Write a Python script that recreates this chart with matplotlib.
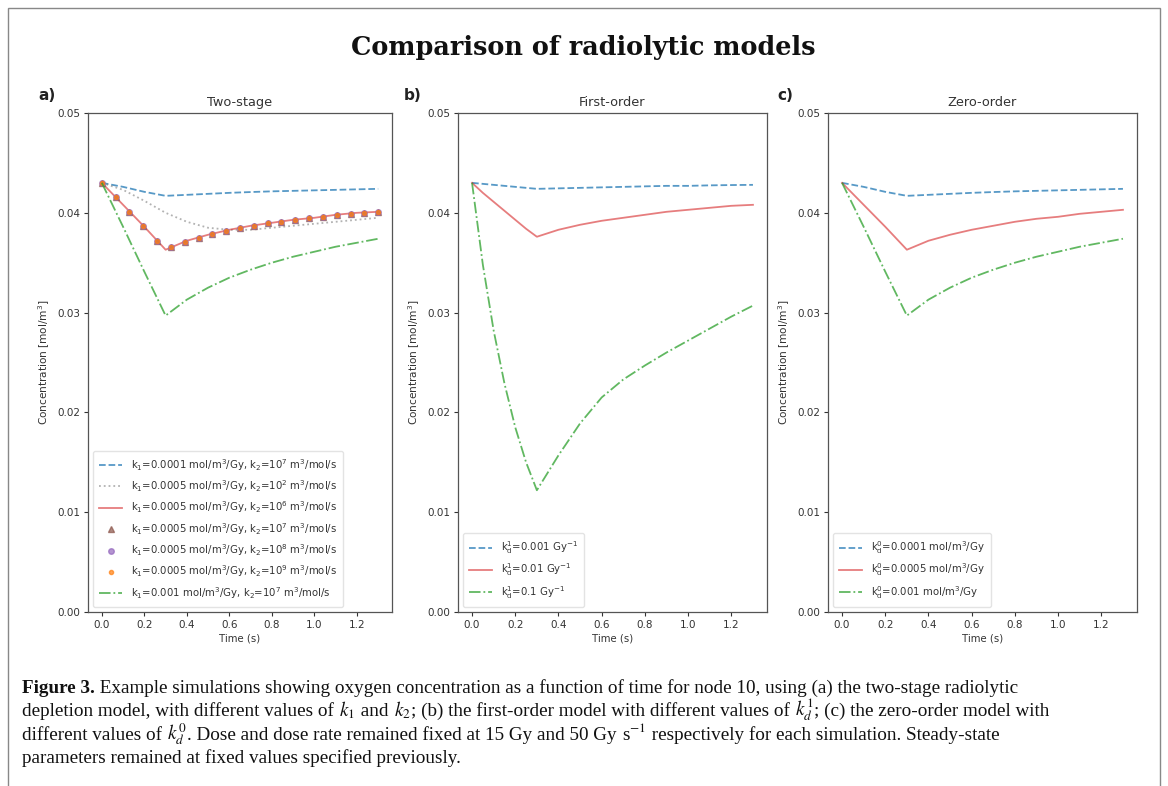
import matplotlib
matplotlib.use("Agg")
import matplotlib.pyplot as plt
from matplotlib.patches import Rectangle

# ---------------- data ----------------
t = [0.0, 0.1, 0.2, 0.3, 0.4, 0.5, 0.6, 0.7, 0.8, 0.9, 1.0, 1.1, 1.2, 1.3]
t_fine = [0.0, 0.05, 0.1, 0.15, 0.2, 0.25, 0.3, 0.4, 0.5, 0.6, 0.7, 0.8, 0.9, 1.0, 1.1, 1.2, 1.3]

# (a) two-stage
a_k1_1e4_k2_1e7 = [0.0430, 0.0426, 0.0421, 0.0417, 0.0418, 0.0419, 0.0420, 0.04208, 0.04215, 0.0422, 0.04225, 0.0423, 0.04235, 0.0424]
a_k1_5e4_k2_1e2 = [0.0430, 0.0423, 0.0412, 0.0400, 0.0391, 0.0385, 0.0383, 0.0383, 0.0385, 0.0387, 0.0389, 0.0391, 0.0393, 0.0395]
a_k1_5e4_k2_1e6 = [0.0430, 0.0408, 0.0386, 0.0363, 0.0372, 0.0378, 0.0383, 0.0387, 0.0390, 0.0393, 0.0395, 0.0398, 0.0400, 0.0401]
a_k1_1e3_k2_1e7 = [0.0430, 0.0386, 0.0341, 0.0297, 0.0313, 0.0325, 0.0335, 0.0343, 0.0350, 0.0356, 0.0361, 0.0366, 0.0370, 0.0374]

t_mark = [0.0, 0.065, 0.13, 0.195, 0.26, 0.325, 0.39, 0.455, 0.52, 0.585, 0.65,
          0.715, 0.78, 0.845, 0.91, 0.975, 1.04, 1.105, 1.17, 1.235, 1.3]
a_k2_1e7 = [0.0430, 0.0416, 0.0401, 0.0387, 0.0372, 0.0366, 0.0371, 0.0375, 0.0379, 0.0382, 0.0385,
            0.0387, 0.0390, 0.0391, 0.0393, 0.0395, 0.0396, 0.0398, 0.0399, 0.0400, 0.0401]
a_k2_1e8 = [0.0430, 0.0416, 0.0401, 0.0387, 0.0372, 0.0366, 0.0371, 0.0375, 0.0379, 0.0382, 0.0385,
            0.0387, 0.0390, 0.0391, 0.0393, 0.0395, 0.0396, 0.0398, 0.0399, 0.0400, 0.0401]
a_k2_1e9 = [0.0430, 0.0416, 0.0401, 0.0387, 0.0372, 0.0366, 0.0371, 0.0375, 0.0379, 0.0382, 0.0385,
            0.0387, 0.0390, 0.0391, 0.0393, 0.0395, 0.0396, 0.0398, 0.0399, 0.0400, 0.0401]

# (b) first-order (t_fine)
b_kd_0001 = [0.0430, 0.0429, 0.0428, 0.0427, 0.0426, 0.0425, 0.0424, 0.04245, 0.0425, 0.04255, 0.0426, 0.04265, 0.0427, 0.0427, 0.04275, 0.04278, 0.0428]
b_kd_001 = [0.0430, 0.0420, 0.0411, 0.0402, 0.0393, 0.0384, 0.0376, 0.0383, 0.0388, 0.0392, 0.0395, 0.0398, 0.0401, 0.0403, 0.0405, 0.0407, 0.0408]
b_kd_01 = [0.0430, 0.0348, 0.0282, 0.0229, 0.0185, 0.0150, 0.0122, 0.0157, 0.0189, 0.0215, 0.0233, 0.0247, 0.0260, 0.0272, 0.0284, 0.0296, 0.0307]

# (c) zero-order
c_kd_00001 = [0.0430, 0.0426, 0.0421, 0.0417, 0.0418, 0.0419, 0.0420, 0.04208, 0.04215, 0.0422, 0.04225, 0.0423, 0.04235, 0.0424]
c_kd_00005 = [0.0430, 0.0408, 0.0386, 0.0363, 0.0372, 0.0378, 0.0383, 0.0387, 0.0391, 0.0394, 0.0396, 0.0399, 0.0401, 0.0403]
c_kd_0001 = [0.0430, 0.0386, 0.0341, 0.0297, 0.0313, 0.0325, 0.0335, 0.0343, 0.0350, 0.0356, 0.0361, 0.0366, 0.0370, 0.0374]

a_labels = [r"k$_1$=0.0001 mol/m$^3$/Gy, k$_2$=10$^7$ m$^3$/mol/s",
            r"k$_1$=0.0005 mol/m$^3$/Gy, k$_2$=10$^2$ m$^3$/mol/s",
            r"k$_1$=0.0005 mol/m$^3$/Gy, k$_2$=10$^6$ m$^3$/mol/s",
            r"k$_1$=0.0005 mol/m$^3$/Gy, k$_2$=10$^7$ m$^3$/mol/s",
            r"k$_1$=0.0005 mol/m$^3$/Gy, k$_2$=10$^8$ m$^3$/mol/s",
            r"k$_1$=0.0005 mol/m$^3$/Gy, k$_2$=10$^9$ m$^3$/mol/s",
            r"k$_1$=0.001 mol/m$^3$/Gy, k$_2$=10$^7$ m$^3$/mol/s"]
b_labels = [r"k$_\mathrm{d}^1$=0.001 Gy$^{-1}$",
            r"k$_\mathrm{d}^1$=0.01 Gy$^{-1}$",
            r"k$_\mathrm{d}^1$=0.1 Gy$^{-1}$"]
c_labels = [r"k$_\mathrm{d}^0$=0.0001 mol/m$^3$/Gy",
            r"k$_\mathrm{d}^0$=0.0005 mol/m$^3$/Gy",
            r"k$_\mathrm{d}^0$=0.001 mol/m$^3$/Gy"]
panel_titles = ["Two-stage", "First-order", "Zero-order"]
panel_letters = ["a)", "b)", "c)"]
yticks = [0.00, 0.01, 0.02, 0.03, 0.04, 0.05]
xticks = [0.0, 0.2, 0.4, 0.6, 0.8, 1.0, 1.2]

caption_lines = [
    ["**Figure 3.", " Example simulations showing oxygen concentration as a function of time for node 10, using (a) the two-stage radiolytic"],
    ["depletion model, with different values of ", "$k_1$", " and ", "$k_2$",
     "; (b) the first-order model with different values of ", "$k_d^1$", "; (c) the zero-order model with"],
    ["different values of ", "$k_d^0$", ". Dose and dose rate remained fixed at 15 Gy and 50 Gy ", "s$^{-1}$",
     " respectively for each simulation. Steady-state"],
    ["parameters remained at fixed values specified previously."],
]

# ---------------- style ----------------
W, H = 1168, 786
fig = plt.figure(figsize=(W / 100, H / 100), dpi=100)
fig.patch.set_facecolor("white")

BLUE, GRAY, RED, GREEN = "#1f77b4", "#7f7f7f", "#d62728", "#2ca02c"
BROWN, PURPLE, ORANGE = "#8c564b", "#9467bd", "#ff7f0e"
LW = 1.3
AL = 0.75

def px_axes(l, r, top, bot):
    return [l / W, (H - bot) / H, (r - l) / W, (bot - top) / H]

axes_px = [(88, 392), (458, 767), (828, 1137)]
axs = [fig.add_axes(px_axes(l, r, 113, 612)) for (l, r) in axes_px]

ax = axs[0]
ax.plot(t, a_k1_1e4_k2_1e7, "--", color=BLUE, lw=LW, alpha=AL, label=a_labels[0])
ax.plot(t, a_k1_5e4_k2_1e2, ":", color=GRAY, lw=LW, alpha=0.6, label=a_labels[1])
ax.plot(t, a_k1_5e4_k2_1e6, "-", color=RED, lw=LW, alpha=0.6, label=a_labels[2])
ax.plot(t_mark, a_k2_1e7, "^", color=BROWN, ms=4, alpha=0.7, ls="none", label=a_labels[3])
ax.plot(t_mark, a_k2_1e8, "o", color=PURPLE, ms=4, alpha=0.7, ls="none", label=a_labels[4])
ax.plot(t_mark, a_k2_1e9, "o", color=ORANGE, ms=3, alpha=0.7, ls="none", label=a_labels[5])
ax.plot(t, a_k1_1e3_k2_1e7, "-.", color=GREEN, lw=LW, alpha=AL, label=a_labels[6])

ax = axs[1]
ax.plot(t_fine, b_kd_0001, "--", color=BLUE, lw=LW, alpha=AL, label=b_labels[0])
ax.plot(t_fine, b_kd_001, "-", color=RED, lw=LW, alpha=0.6, label=b_labels[1])
ax.plot(t_fine, b_kd_01, "-.", color=GREEN, lw=LW, alpha=AL, label=b_labels[2])

ax = axs[2]
ax.plot(t, c_kd_00001, "--", color=BLUE, lw=LW, alpha=AL, label=c_labels[0])
ax.plot(t, c_kd_00005, "-", color=RED, lw=LW, alpha=0.6, label=c_labels[1])
ax.plot(t, c_kd_0001, "-.", color=GREEN, lw=LW, alpha=AL, label=c_labels[2])

for i, ax in enumerate(axs):
    ax.set_ylim(0, 0.05)
    ax.set_xlim(-0.065, 1.365)
    ax.set_yticks(yticks)
    ax.set_yticklabels([f"{v:.2f}" for v in yticks])
    ax.set_xticks(xticks)
    ax.set_xticklabels([f"{v:.1f}" for v in xticks])
    ax.tick_params(labelsize=7.5, length=3, width=0.8, colors="#333333", pad=2.5)
    for sp in ax.spines.values():
        sp.set_color("#555555")
        sp.set_linewidth(0.9)
    ax.set_title(panel_titles[i], fontsize=9.3, color="#333333", pad=5)
    ax.set_xlabel("Time (s)", fontsize=7.3, color="#333333", labelpad=3)
    ax.set_ylabel(r"Concentration [mol/m$^3$]", fontsize=7.6, color="#333333", labelpad=4)
    leg = ax.legend(loc="lower left", fontsize=7.3, frameon=True, borderpad=0.6,
                    labelspacing=0.55, handlelength=2.3, handletextpad=0.8,
                    borderaxespad=0.5, numpoints=1)
    leg.get_frame().set_edgecolor("#dddddd")
    for txt in leg.get_texts():
        txt.set_color("#333333")

letter_x = [38, 404, 777]
for lx, lt in zip(letter_x, panel_letters):
    fig.text(lx / W, (H - 95) / H, lt, fontsize=11, fontweight="bold",
             ha="left", va="center", color="#222222")

fig.text(583 / W, (H - 47) / H, "Comparison of radiolytic models",
         fontsize=18.4, fontweight="bold", family="DejaVu Serif",
         ha="center", va="center", color="#111111")

# outer border
fig.patches.append(Rectangle((8 / W, -0.01), (1160 - 8) / W, (H - 8) / H + 0.01,
                             transform=fig.transFigure, fill=False,
                             edgecolor="#888888", lw=1.0))

# caption, written piece by piece
cap_kw = dict(fontsize=13.8, family="Liberation Serif", color="#111111",
              va="baseline", ha="left", math_fontfamily="stix")
renderer = fig.canvas.get_renderer()
base = [693, 716, 740, 763]
for yb, pieces in zip(base, caption_lines):
    x = 22.0
    for p in pieces:
        kw = dict(cap_kw)
        if p.startswith("**"):
            p = p[2:]
            kw["fontweight"] = "bold"
        txt = fig.text(x / W, (H - yb) / H, p, **kw)
        bb = txt.get_window_extent(renderer=renderer)
        x = bb.x1 + 0.6

fig.savefig("out.png", dpi=100, facecolor="white")
